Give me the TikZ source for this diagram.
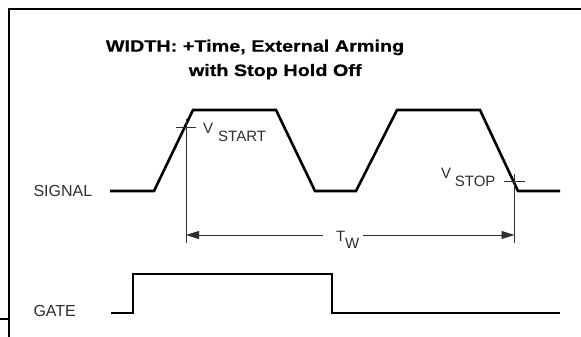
\documentclass[tikz,border=0pt]{standalone}
\usepackage{fontspec}
\setmainfont{Liberation Sans}
\newfontfamily\titlefont[FakeStretch=1.2,FakeBold=0.6]{Liberation Sans}
\usetikzlibrary{arrows.meta}
\definecolor{labelgray}{HTML}{2E2E2E}
\tikzset{
  frame/.style={line width=2.7pt, line cap=rect},
  wave/.style={line width=2.6pt, line join=miter},
  dimline/.style={line width=0.9pt, color=labelgray},
  dimtip/.tip={Triangle[length=13pt,width=8pt]},
  titletext/.style={inner sep=0pt, anchor=base, font=\titlefont\bfseries\fontsize{16.5}{19}\selectfont},
  axislabel/.style={inner sep=0pt, anchor=base west, text=labelgray, font=\fontsize{16}{19}\selectfont},
  smalllabel/.style={inner sep=0pt, anchor=base west, text=labelgray, font=\fontsize{15}{17}\selectfont}
}
\begin{document}
\begin{tikzpicture}[x=1pt,y=-1pt]
\useasboundingbox (0,0) rectangle (581,337);
% frame
\draw[frame] (581,9) -- (9,9) -- (9,340);
\draw[line width=1.5pt] (0,319) -- (9,319);
% title
\node[titletext] (title1) at (255,51.7) {WIDTH: +Time, External Arming};
\node[titletext] (title2) at (275.2,76) {with Stop Hold Off};
% axis labels
\node[axislabel] (signal) at (33.3,196.7) {SIGNAL};
\node[axislabel] (gate) at (33.3,316.7) {GATE};
% signal waveform
\draw[wave] (110,191) -- (154,191) -- (193,110) -- (276,110) -- (315,191)
  -- (356,191) -- (397,110) -- (480,110) -- (518,191) -- (560,191);
% gate waveform
\draw[wave] (111,313) -- (133,313) -- (133,274) -- (332,274) -- (332,313) -- (560,313);
% start / stop markers
\coordinate (vstartpt) at (186,127);
\coordinate (vstoppt) at (514.5,181);
\coordinate (startdim) at (186,235);
\coordinate (stopdim) at (514.5,235);
\draw[dimline] (176,127) -- (196,127);
\draw[dimline] (504,181) -- (525,181);
\draw[dimline] (186,119) -- (186,243);
\draw[dimline] (514.5,174) -- (514.5,243);
% labels
\node[smalllabel] (vs) at (203,133.3) {V};
\node[smalllabel] (vssub) at (218,141.7) {START};
\node[smalllabel] (vp) at (441,178.3) {V};
\node[smalllabel] (vpsub) at (454.7,186) {STOP};
\node[smalllabel] (tw) at (336,241) {T};
\node[smalllabel] (twsub) at (345,248) {W};
% dimension arrows
\coordinate (twL) at (323,235);
\coordinate (twR) at (363,235);
\draw[dimline, dimtip-] (startdim) -- (twL);
\draw[dimline, -dimtip] (twR) -- (stopdim);
\end{tikzpicture}
\end{document}
